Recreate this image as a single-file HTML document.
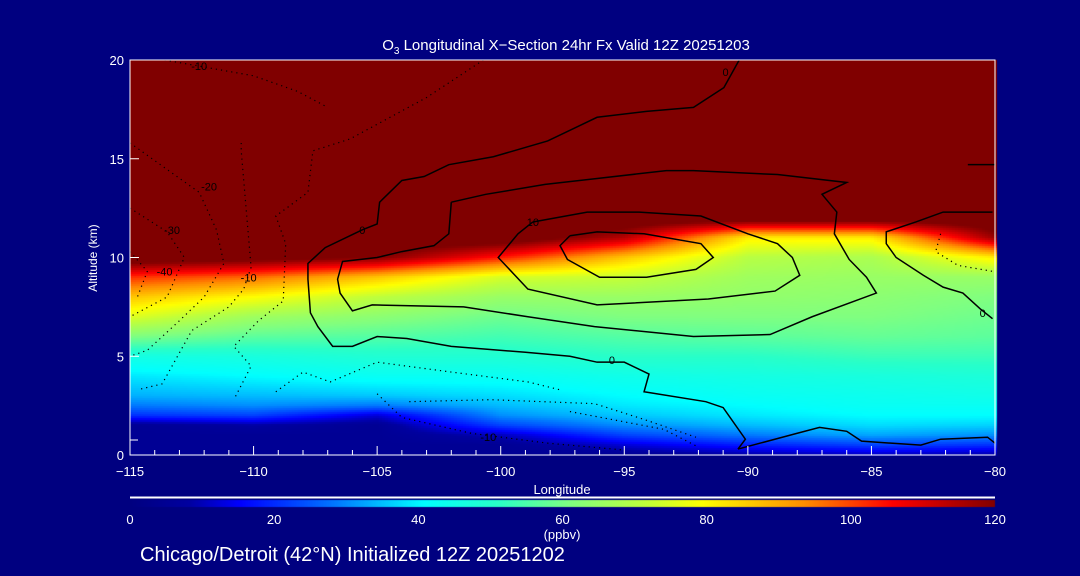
<!DOCTYPE html>
<html><head><meta charset="utf-8">
<style>
body{margin:0;background:#000080;width:1080px;height:576px;overflow:hidden;font-family:"Liberation Sans",sans-serif;color:#fff}
#wrap{position:relative;width:1080px;height:576px}
canvas,svg{position:absolute;left:0;top:0}
</style></head><body>
<div id="wrap">
<canvas id="field" width="1080" height="576"></canvas>
<svg id="ov" width="1080" height="576"></svg>
</div>
<script>
// ozone grid (ppbv): columns = lons, rows = alts
const lons=[-115,-110,-105,-100,-95,-90,-85,-80];
const alts=[0,0.5,1,1.5,2,2.5,3,4,5,6,7,8,9,10,11,12,20];
const colM115=[5,5,5,5,20,28,33,38,45,60,74,85,100,125,125,125,125];
const colM110=[5,5,5,8,22,30,34,40,46,56,65,78,95,122,125,125,125];
const colM105=[5,5,5,5,12,28,35,42,48,55,62,70,85,118,125,125,125];
const colM100=[5,5,10,22,30,34,37,42,48,53,58,64,73,102,125,125,125];
const colM95=[5,12,22,30,35,38,40,44,50,55,60,64,71,85,112,125,125];
const colM90=[8,18,28,34,38,40,42,45,50,56,60,63,65,69,80,125,125];
const colM85=[10,22,32,37,40,42,43,46,52,57,60,62,64,67,80,125,125];
const colM80=[8,20,30,36,40,42,44,47,52,56,58,60,64,80,115,125,125];
const grid=[colM115,colM110,colM105,colM100,colM95,colM90,colM85,colM80];
const cbTicks=[0,20,40,60,80,100,120];
const xTicks=[-115,-110,-105,-100,-95,-90,-85,-80];
const yTicks=[0,5,10,15,20];
const contourOuter0=[[-90.35,20],[-90.97,18.6],[-92.2,17.6],[-94.1,17.4],[-96.1,17.1],[-98.1,15.9],[-100.3,15.1],[-102.1,14.7],[-103.1,14.1],[-104,13.9],[-104.9,12.8],[-105,11.7],[-105.6,11.4],[-107.1,10.5],[-107.8,9.7],[-107.8,8.9],[-107.7,7.2],[-107.4,6.5],[-106.8,5.5],[-106,5.5],[-105,6.0],[-103.8,5.9],[-102,5.5],[-99,5.2],[-97.2,5.0],[-96.1,4.7],[-95,4.7],[-94,4.1],[-94.2,3.2],[-91.7,2.7],[-91,2.4],[-90.1,0.8],[-90.4,0.3]];
const contourInner0=[[-102,12.8],[-102.1,11.2],[-102.7,10.6],[-104,10.3],[-105,10.0],[-106.4,9.8],[-106.6,8.9],[-106.5,8.2],[-106,7.3],[-105.2,7.6],[-101.5,7.5],[-98.9,7.0],[-96.2,6.5],[-92.2,6.0],[-89.1,6.1],[-87.4,7.0],[-84.8,8.2],[-85.2,9.0],[-85.9,9.9],[-86.5,11.2],[-86.4,12.3],[-87,13.2],[-86,13.8],[-88.8,14.2],[-92.2,14.4],[-93.3,14.4],[-96.1,14.0],[-98.2,13.7],[-100.6,13.2],[-102,12.8]];
const contour10=[[-98.7,11.8],[-96.5,12.3],[-94.4,12.3],[-91.9,12.1],[-90,11.2],[-88.8,10.7],[-88.2,10.0],[-87.9,9.1],[-88.9,8.3],[-91.6,7.9],[-96.1,7.6],[-98.9,8.4],[-100.1,10.0],[-99.3,11.2],[-98.7,11.8]];
const contour20=[[-97.2,11.1],[-96.1,11.3],[-94.2,11.2],[-91.9,10.7],[-91.4,10.0],[-92.1,9.4],[-94.1,9.0],[-96,9.0],[-97.3,9.9],[-97.6,10.6],[-97.2,11.1]];
const contourRight0=[[-80.1,12.3],[-82.1,12.3],[-83.2,11.8],[-84.4,11.3],[-84.4,10.7],[-84,10],[-82.9,9.1],[-82.1,8.5],[-81.3,8.2],[-80.6,7.4],[-80.1,6.9]];
const contourBotRight=[[-90.4,0.3],[-88,1.1],[-87.1,1.4],[-86,1.2],[-85.4,0.7],[-83,0.5],[-82.2,0.8],[-80.3,0.9],[-80,0.6]];
const contourTopRight=[[-81.1,14.7],[-80,14.7]];
const dotA=[[-113.6,20],[-110,19.2],[-108.2,18.4],[-107,17.6]];
const dotA2=[[-110.5,15.8],[-110.5,15.4],[-110.1,9.5],[-110.4,8.4],[-111,7.5],[-112.5,6.3],[-113.7,3.6],[-114.7,3.3]];
const dotB=[[-100.7,20],[-103,18.1],[-106.1,16],[-107.6,15.4],[-107.8,13.3],[-109.1,12.1],[-108.7,10.7],[-108.8,7.8],[-109.8,6.8],[-110.8,5.5],[-110.1,4.5],[-110.8,2.8]];
const dotC=[[-115,15.8],[-113.1,14.1],[-112.2,13.3],[-111.5,11.4],[-111.2,9.7],[-112,8],[-113,6.8],[-114.3,5.3],[-115,5]];
const dotD=[[-115,12.5],[-113.5,11.3],[-112.8,10],[-113.5,8],[-115,7]];
const dotE=[[-115,10.3],[-114.3,9.3],[-114.7,8]];
const dotF=[[-109.1,3.2],[-108,4.2],[-106.9,3.7],[-105,4.7],[-102,4.2],[-98.9,3.7],[-97.6,3.3]];
const dotG=[[-103.7,2.7],[-100.4,2.8],[-96.2,2.6],[-94.2,1.8],[-92.1,0.9]];
const dotH=[[-105,3.1],[-104,1.9],[-101.2,1.1],[-98.1,0.6],[-95,0.25]];
const dotI=[[-97.2,2.2],[-93.4,1.3],[-92,0.4]];
const dotR=[[-82.2,11.2],[-82.4,10.3],[-81.5,9.6],[-80.1,9.3]];

const PL=130,PR=995,PT=60,PB=455;
const X=l=>PL+(l+115)/35*(PR-PL);
const Y=a=>PB-a/20*(PB-PT);
const cstops=[[0,[0,0,128]],[8,[0,0,160]],[15,[0,0,255]],[28,[0,120,255]],[40,[0,255,255]],[50,[40,255,200]],[60,[128,255,128]],[70,[190,255,60]],[78,[255,255,0]],[92,[255,140,0]],[104,[255,0,0]],[118,[128,0,0]]];
function col(v){v=Math.max(0,Math.min(118,v));for(let i=1;i<cstops.length;i++){if(v<=cstops[i][0]){const a=cstops[i-1],b=cstops[i];const t=(v-a[0])/(b[0]-a[0]);return 'rgb('+a[1].map((c,k)=>Math.round(c+(b[1][k]-c)*t)).join(',')+')';}}return 'rgb(128,0,0)';}
function colVal(c,a){for(let j=1;j<alts.length;j++){if(a<=alts[j]){const t=(a-alts[j-1])/(alts[j]-alts[j-1]);return grid[c][j-1]+(grid[c][j]-grid[c][j-1])*t;}}return grid[c][alts.length-1];}
function val(l,a){const f=(l-lons[0])/5;const i=Math.max(0,Math.min(lons.length-2,Math.floor(f)));const t=Math.min(1,f-i);return colVal(i,a)*(1-t)+colVal(i+1,a)*t;}
const cv=document.getElementById('field').getContext('2d');
for(let px=PL;px<PR;px+=3){for(let py=PT;py<PB;py+=2){const l=-115+(px+1.5-PL)/(PR-PL)*35;const a=(PB-py-1)/(PB-PT)*20;cv.fillStyle=col(val(l,a));cv.fillRect(px,py,3,2);}}
for(let px=PL;px<PR;px++){cv.fillStyle=col((px-PL)/(PR-PL)*118);cv.fillRect(px,500,1,7);}

const ov=document.getElementById('ov');const NS='http://www.w3.org/2000/svg';
function mk(t,at,txt){const e=document.createElementNS(NS,t);for(const k in at)e.setAttribute(k,at[k]);if(txt!==undefined)e.textContent=txt;ov.appendChild(e);return e;}
function line(pts,name,dash){const e=mk('polyline',{points:pts.map(p=>X(p[0])+','+Y(p[1])).join(' '),fill:'none',stroke:'#000','stroke-width':dash?1.2:1.5,'stroke-dasharray':dash?'1.2,4':'none'});}
line(contourOuter0,'contour-0-outer',false);line(contourInner0,'contour-0-inner',false);line(contour10,'contour-10',false);line(contour20,'contour-20',false);
line(contourRight0,'contour-0-right',false);line(contourBotRight,'contour-0-bottom',false);line(contourTopRight,'contour-top-right',false);
[dotA,dotA2,dotB,dotC,dotD,dotE,dotF,dotG,dotH,dotI,dotR].forEach((d,i)=>line(d,'contour-negative-'+i,true));
const clabels=[[-112.2,19.7,'-10'],[-111.8,13.6,'-20'],[-113.3,11.4,'-30'],[-113.6,9.3,'-40'],[-110.2,9.0,'-10'],[-105.6,11.4,'0'],[-98.7,11.8,'10'],[-90.9,19.4,'0'],[-95.5,4.8,'0'],[-100.5,0.9,'-10'],[-80.5,7.2,'0']];
clabels.forEach(c=>{const e=mk('text',{x:X(c[0]),y:Y(c[1])+4,'font-size':11,fill:'#000','text-anchor':'middle'},c[2]);});
const ax=mk('rect',{x:PL,y:PT,width:PR-PL,height:PB-PT,fill:'none',stroke:'#fff','stroke-width':1});
for(let l=-115;l<=-80;l++){const maj=l%5===0;const e=mk('line',{x1:X(l),x2:X(l),y1:PB,y2:PB-(maj?9:5),stroke:'#fff'});}
xTicks.forEach(l=>{const e=mk('text',{x:X(l),y:PB+21,'font-size':13,fill:'#fff','text-anchor':'middle'},'\u2212'+Math.abs(l));});
yTicks.forEach(a=>{const t=mk('line',{x1:PL,x2:PL+9,y1:Y(a),y2:Y(a),stroke:'#fff'});});
let e=mk('line',{x1:PL,x2:PL+8,y1:440,y2:440,stroke:'#fff'});
yTicks.forEach(a=>{const t=mk('text',{x:PL-6,y:Y(a)+5,'font-size':13,fill:'#fff','text-anchor':'end'},String(a));});
e=mk('text',{x:562,y:494,'font-size':13,fill:'#fff','text-anchor':'middle'},'Longitude');
e=mk('text',{x:97,y:258,'font-size':12,fill:'#fff','text-anchor':'middle',transform:'rotate(-90 97 258)'},'Altitude (km)');
e=mk('text',{x:566,y:50,'font-size':15,fill:'#fff','text-anchor':'middle'});
e.innerHTML='O<tspan dy="4" font-size="10">3</tspan><tspan dy="-4"> Longitudinal X\u2212Section 24hr  Fx Valid 12Z 20251203</tspan>';
e=mk('line',{x1:PL,x2:PR,y1:497.5,y2:497.5,stroke:'#fff','stroke-width':2});
cbTicks.forEach(v=>{const t=mk('text',{x:PL+v/120*(PR-PL),y:524,'font-size':13,fill:'#fff','text-anchor':'middle'},String(v));});
e=mk('text',{x:562,y:539,'font-size':13,fill:'#fff','text-anchor':'middle'},'(ppbv)');
e=mk('text',{x:140,y:561,'font-size':20,fill:'#fff'},'Chicago/Detroit (42\u00b0N) Initialized 12Z 20251202');
</script>
</body></html>
